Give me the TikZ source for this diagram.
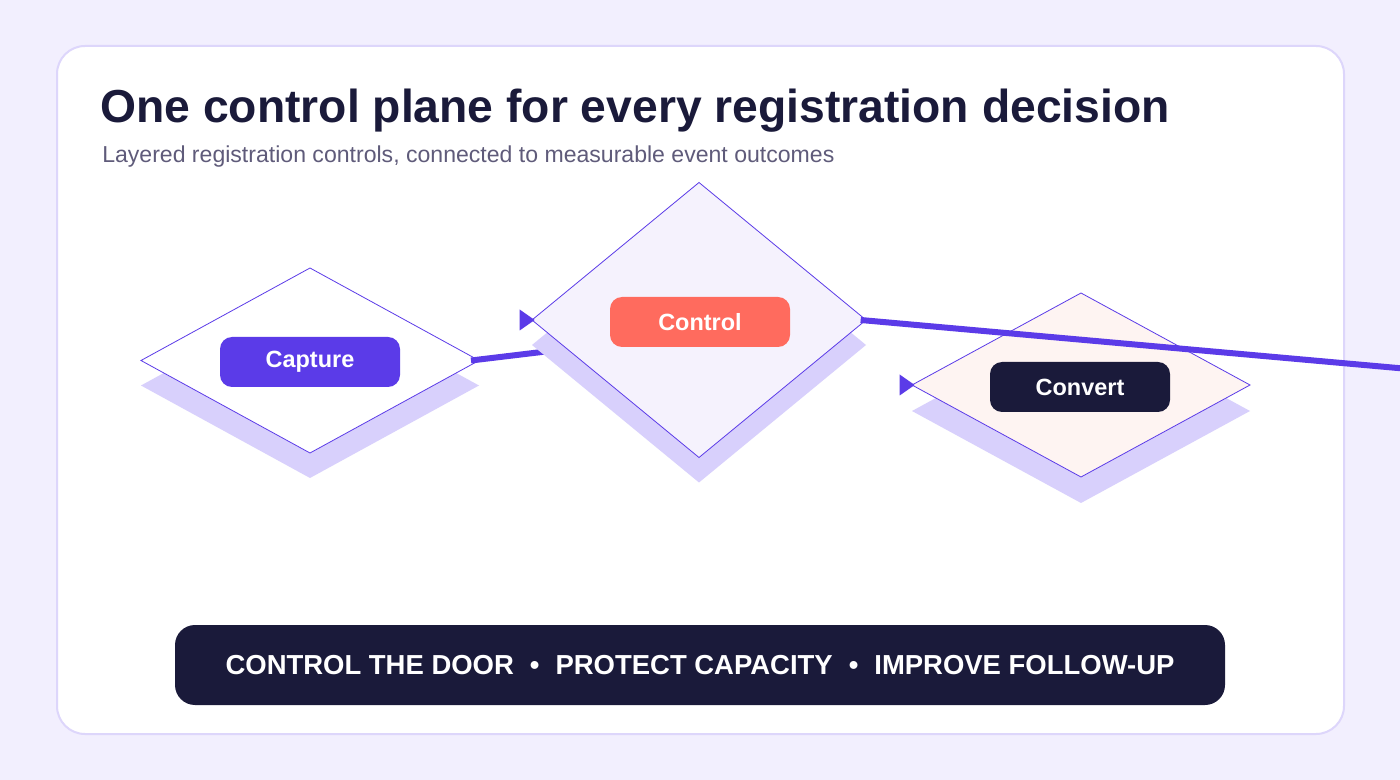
\documentclass[tikz,border=0pt]{standalone}
\usepackage{fontspec}
\setmainfont{Liberation Sans}
\usetikzlibrary{shapes.geometric}

\definecolor{pagebg}{HTML}{F2EFFE}
\definecolor{cardline}{HTML}{DDD6FB}
\definecolor{ink}{HTML}{1A1A3A}
\definecolor{subink}{HTML}{5F5B7A}
\definecolor{accent}{HTML}{5B3BE8}
\definecolor{shade}{HTML}{D8D0FC}
\definecolor{ctlfill}{HTML}{F5F2FD}
\definecolor{cvtfill}{HTML}{FEF4F2}
\definecolor{coral}{HTML}{FF6B5E}

\begin{document}
\begin{tikzpicture}[x=0.75pt, y=-0.75pt,
    diam/.style={diamond, inner sep=0pt, outer sep=0pt, draw=accent, line width=0.6pt},
    shadowdiam/.style={diamond, inner sep=0pt, outer sep=0pt, fill=shade},
    pill/.style={rounded corners=9pt, minimum width=135pt, minimum height=37.5pt,
                 text=white, font=\bfseries\fontsize{17.6}{20}\selectfont},
    link/.style={accent, line width=4.5pt}]
  \useasboundingbox (0,0) rectangle (1400,780);
  \fill[pagebg] (0,0) rectangle (1400,780);
  \draw[cardline, fill=white, line width=1.5pt, rounded corners=21pt] (57,46) rectangle (1344,734);

  % capture
  \node[shadowdiam, minimum width=253.5pt, minimum height=138.75pt] (capS) at (310,385.5) {};
  \node[diam, fill=white, minimum width=253.5pt, minimum height=138.75pt] (cap) at (310,360.5) {};
  \node[pill, fill=accent] (capL) at (310,362) {Capture};
  \coordinate (capEnd) at (600,345);
  \draw[link] ([xshift=-6pt]cap.east) -- (capEnd);

  % control
  \node[shadowdiam, minimum width=250.5pt, minimum height=206.25pt] (ctlS) at (699,345) {};
  \node[diam, fill=ctlfill, minimum width=250.5pt, minimum height=206.25pt] (ctl) at (699,320) {};
  \node[pill, fill=coral] (ctlL) at (700,322) {Control};

  % convert
  \node[shadowdiam, minimum width=253.5pt, minimum height=138pt] (cvtS) at (1081,411) {};
  \node[diam, fill=cvtfill, minimum width=253.5pt, minimum height=138pt] (cvt) at (1081,385) {};
  \node[pill, fill=ink] (cvtL) at (1080,387) {Convert};

  \coordinate (ctlEnd) at (1420,370);
  \draw[link] ([xshift=-4pt]ctl.east) -- (ctlEnd);

  \fill[accent] ([xshift=2pt]ctl.west) -- ++(-15,-10.5) -- ++(0,21) -- cycle;
  \fill[accent] ([xshift=2pt]cvt.west) -- ++(-15,-10.5) -- ++(0,21) -- cycle;

  \node[anchor=base west, inner sep=0pt, text=ink, font=\bfseries\fontsize{34.7}{40}\selectfont] (title) at (100,123)
    {One control plane for every registration decision};
  \node[anchor=base west, inner sep=0pt, text=subink, font=\fontsize{17.3}{20}\selectfont] (sub) at (102,163)
    {Layered registration controls, connected to measurable event outcomes};

  \node[fill=ink, rounded corners=15pt, minimum width=787.5pt, minimum height=60pt,
        text=white, font=\bfseries\fontsize{20.6}{24}\selectfont] (banner) at (700,665)
    {CONTROL THE DOOR\hspace{12pt}\textbullet\hspace{12pt}PROTECT CAPACITY\hspace{12pt}\textbullet\hspace{12pt}IMPROVE FOLLOW-UP};
\end{tikzpicture}
\end{document}
